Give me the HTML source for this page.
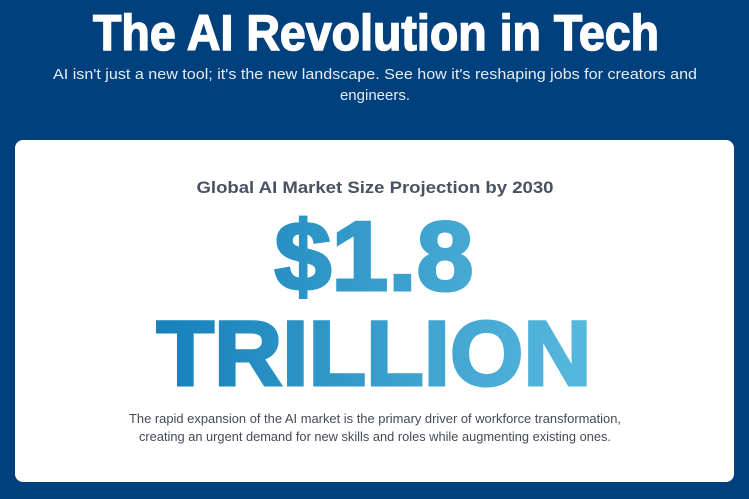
<!DOCTYPE html>
<html><head><meta charset="utf-8"><style>
html,body{margin:0;padding:0;width:749px;height:499px;overflow:hidden;background:#00407c;font-family:"Liberation Sans",sans-serif}
svg{position:absolute;left:0;top:0}
</style></head><body>
<svg width="749" height="499" viewBox="0 0 749 499">
<defs><linearGradient id="g" x1="155" y1="0" x2="592" y2="0" gradientUnits="userSpaceOnUse">
<stop offset="0" stop-color="#1580ba"/><stop offset="1" stop-color="#58b9dd"/></linearGradient></defs>
<text x="376" y="50" text-anchor="middle" font-size="50" font-weight="bold" fill="#fff" stroke="#fff" stroke-width="1.5" textLength="566" lengthAdjust="spacingAndGlyphs">The AI Revolution in Tech</text>
<text x="375" y="79" text-anchor="middle" font-size="15" fill="#e6ecf5" textLength="644" lengthAdjust="spacingAndGlyphs">AI isn't just a new tool; it's the new landscape. See how it's reshaping jobs for creators and</text>
<text x="375" y="100" text-anchor="middle" font-size="15" fill="#e6ecf5">engineers.</text>
<rect x="15" y="140" width="719" height="342" rx="8" fill="#fff"/>
<text x="375" y="193" text-anchor="middle" font-size="17" font-weight="bold" fill="#4a5162" textLength="357" lengthAdjust="spacingAndGlyphs">Global AI Market Size Projection by 2030</text>
<text x="374" y="290" text-anchor="middle" font-size="98" font-weight="bold" fill="url(#g)" stroke="url(#g)" stroke-width="3" textLength="199" lengthAdjust="spacingAndGlyphs">$1.8</text>
<text x="374" y="385" text-anchor="middle" font-size="92" font-weight="bold" fill="url(#g)" stroke="url(#g)" stroke-width="3" textLength="435" lengthAdjust="spacingAndGlyphs">TRILLION</text>
<text x="375" y="423" text-anchor="middle" font-size="13" fill="#454a55" textLength="492" lengthAdjust="spacingAndGlyphs">The rapid expansion of the AI market is the primary driver of workforce transformation,</text>
<text x="375" y="441" text-anchor="middle" font-size="13" fill="#454a55" textLength="472" lengthAdjust="spacingAndGlyphs">creating an urgent demand for new skills and roles while augmenting existing ones.</text>
</svg>
</body></html>
